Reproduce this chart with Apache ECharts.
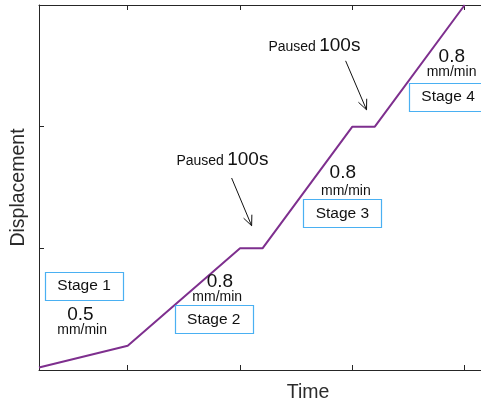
<!DOCTYPE html>
<html>
<head>
<meta charset="utf-8">
<script src="https://cdn.jsdelivr.net/npm/echarts@6/dist/echarts.min.js"></script>
<style>
html,body{margin:0;padding:0;background:#fff;}
#chart{width:481px;height:405px;}
</style>
</head>
<body>
<div id="chart"></div>
<script>
// Data (arbitrary time units; displacement units)
var timeValues = [0.21, 1.0, 2.0, 2.2, 3.0, 3.2, 4.0];
var dispValues = [0.02, 0.2, 1.0, 1.0, 2.0, 2.0, 3.0];
var xTicks = [1, 2, 3, 4];
var yTicks = [0, 1, 2, 3];

// Annotation anchors (data coordinates)
var stageNames = ['Stage 1', 'Stage 2', 'Stage 3', 'Stage 4'];
var stageBoxX = [0.611, 1.766, 2.911, 3.852];
var stageBoxY = [0.689, 0.416, 1.287, 2.246];
var rateTexts = ['0.5', '0.8', '0.8', '0.8'];
var rateX = [0.578, 1.821, 2.915, 3.885];
var rateY = [0.454, 0.728, 1.621, 2.572];
var unitX = [0.594, 1.797, 2.942, 3.883];
var unitY = [0.331, 0.597, 1.473, 2.449];
var pauseLabelX = [1.843, 2.662];
var pauseLabelY = [1.728, 2.665];
var arrowStartX = [1.925, 2.940];
var arrowStartY = [1.578, 2.541];
var arrowEndX = [2.103, 3.126];
var arrowEndY = [1.186, 2.139];

var FONT = 'Arial, "Liberation Sans", Helvetica, sans-serif';
var chart = echarts.init(document.getElementById('chart'), null, {renderer: 'canvas'});

var lineData = timeValues.map(function (t, i) { return [t, dispValues[i]]; });
var axisColor = '#262626';

var option = {
  animation: false,
  backgroundColor: '#fff',
  grid: {left: 39, top: 5, width: 538, height: 365, containLabel: false, outerBoundsMode: 'none'},
  xAxis: [{
    type: 'value', min: 0.21, max: 5, position: 'bottom',
    name: 'Time', nameLocation: 'middle', nameGap: 13,
    nameTextStyle: {fontFamily: FONT, fontSize: 19.5, color: '#2b2b2b', verticalAlign: 'top'},
    axisLine: {show: true, onZero: false, lineStyle: {color: axisColor, width: 1}},
    axisTick: {show: true, inside: true, length: 5, customValues: xTicks, lineStyle: {color: axisColor}},
    axisLabel: {show: false},
    splitLine: {show: false}
  }, {
    type: 'value', min: 0.21, max: 5, position: 'top',
    axisLine: {show: true, onZero: false, lineStyle: {color: axisColor, width: 1}},
    axisTick: {show: true, inside: true, length: 5, customValues: xTicks, lineStyle: {color: axisColor}},
    axisLabel: {show: false},
    splitLine: {show: false}
  }],
  yAxis: [{
    type: 'value', min: 0, max: 3, interval: 1, position: 'left',
    name: 'Displacement', nameLocation: 'middle', nameGap: 10, nameRotate: 90,
    nameTextStyle: {fontFamily: FONT, fontSize: 19.5, color: '#2b2b2b'},
    axisLine: {show: true, onZero: false, lineStyle: {color: axisColor, width: 1}},
    axisTick: {show: true, inside: true, length: 5, customValues: yTicks, lineStyle: {color: axisColor}},
    axisLabel: {show: false},
    splitLine: {show: false}
  }],
  series: [{
    type: 'line',
    data: lineData,
    symbol: 'none',
    lineStyle: {color: '#7E2F8E', width: 2},
    z: 3
  }]
};
chart.setOption(option);

function px(x, y) { return chart.convertToPixel({xAxisIndex: 0, yAxisIndex: 0}, [x, y]); }

var g = [];
var boxW = 78, boxH = 28;
stageNames.forEach(function (name, i) {
  var c = px(stageBoxX[i], stageBoxY[i]);
  g.push({type: 'rect', id: 'box' + i, shape: {x: Math.round(c[0] - boxW / 2) + 0.5, y: Math.round(c[1] - boxH / 2) + 0.5, width: boxW, height: boxH},
    style: {fill: '#ffffff', stroke: '#4AB0F2', lineWidth: 1.2}, z: 10});
  g.push({type: 'text', id: 'stage' + i, x: c[0], y: c[1], style: {text: name, font: '15.5px ' + FONT, fill: '#111', align: 'center', verticalAlign: 'middle'}, z: 11});
  var r = px(rateX[i], rateY[i]);
  g.push({type: 'text', id: 'rate' + i, x: r[0], y: r[1], style: {text: rateTexts[i], font: '19px ' + FONT, fill: '#111', align: 'center', verticalAlign: 'middle'}, z: 11});
  var u = px(unitX[i], unitY[i]);
  g.push({type: 'text', id: 'unit' + i, x: u[0], y: u[1], style: {text: 'mm/min', font: '14px ' + FONT, fill: '#111', align: 'center', verticalAlign: 'middle'}, z: 11});
});

pauseLabelX.forEach(function (x, i) {
  var p = px(x, pauseLabelY[i]);
  g.push({type: 'text', id: 'pause' + i, x: p[0], y: p[1], style: {
    text: '{a|Paused} {b|100s}', align: 'center', verticalAlign: 'middle',
    rich: {a: {fontFamily: FONT, fontSize: 14, fill: '#111', verticalAlign: 'bottom', padding: [0, 0, 1, 0]},
           b: {fontFamily: FONT, fontSize: 19, fill: '#111', verticalAlign: 'bottom'}}
  }, z: 11});
  var s = px(arrowStartX[i], arrowStartY[i]);
  var e = px(arrowEndX[i], arrowEndY[i]);
  g.push({type: 'line', id: 'arrow' + i, shape: {x1: s[0], y1: s[1], x2: e[0], y2: e[1]}, style: {stroke: '#111', lineWidth: 1}, z: 11});
  var ang = Math.atan2(e[1] - s[1], e[0] - s[0]);
  var L = 11, spread = 0.42;
  var a1 = [e[0] - L * Math.cos(ang - spread), e[1] - L * Math.sin(ang - spread)];
  var a2 = [e[0] - L * Math.cos(ang + spread), e[1] - L * Math.sin(ang + spread)];
  g.push({type: 'polyline', id: 'head' + i, shape: {points: [a1, e, a2]}, style: {stroke: '#111', lineWidth: 1, fill: null}, z: 11});
});

chart.setOption({graphic: g});
</script>
</body>
</html>
